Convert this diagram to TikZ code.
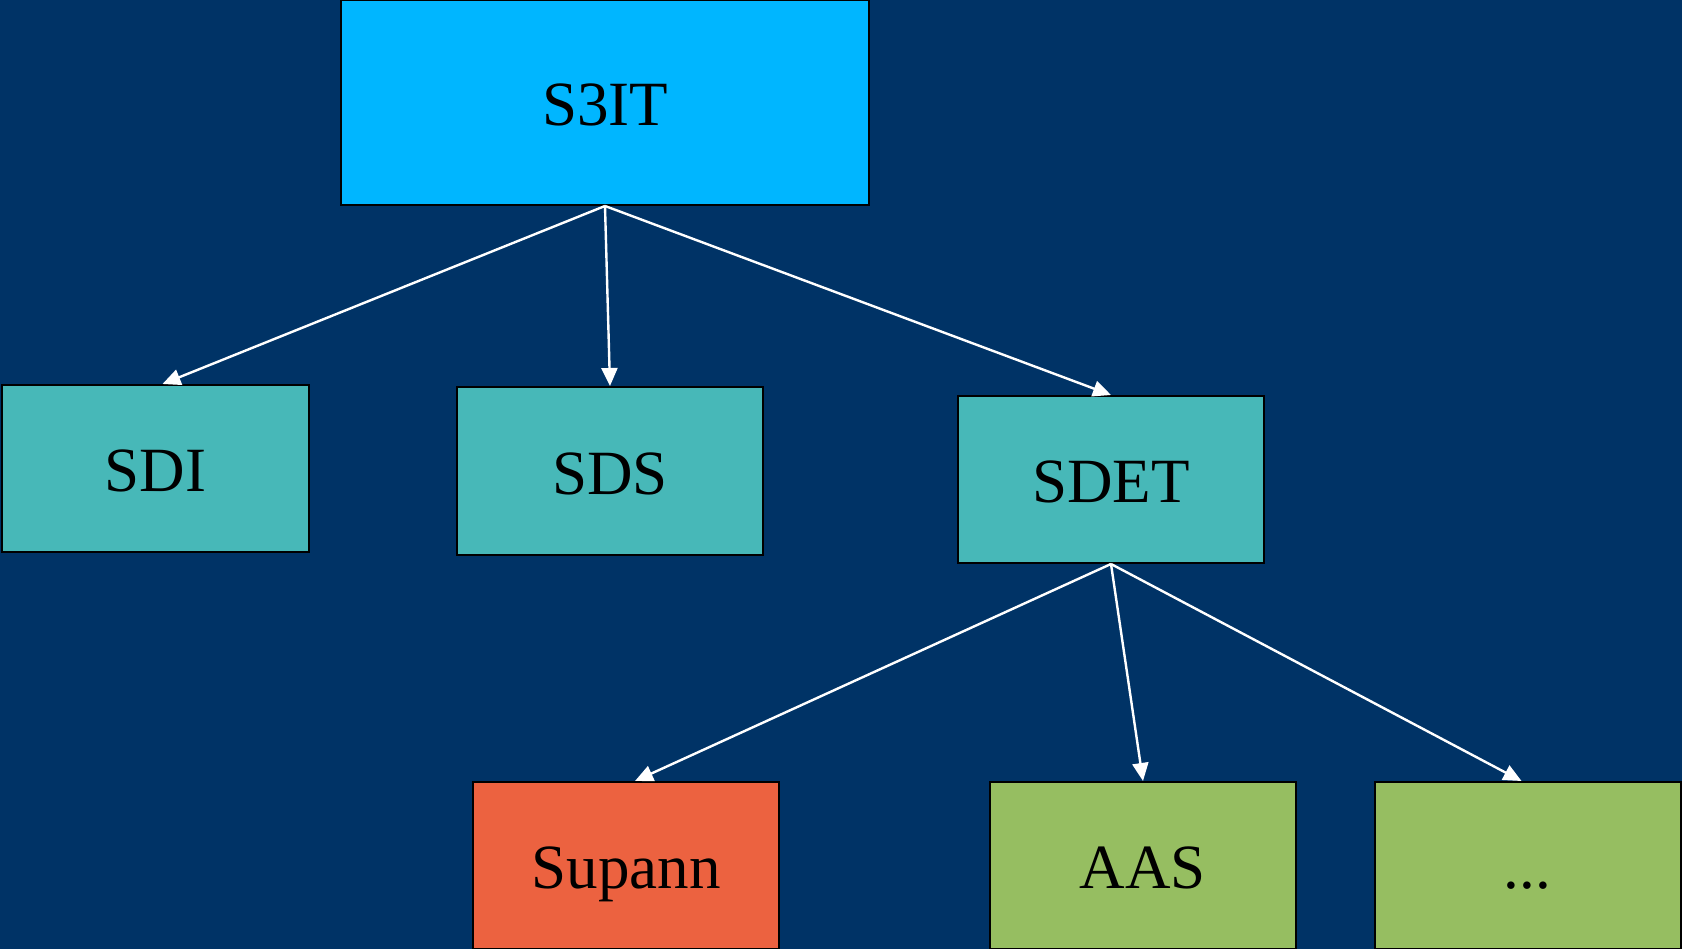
\documentclass[tikz,border=0pt]{standalone}
\usepackage{fontspec}
\setmainfont{Liberation Serif}
\usetikzlibrary{arrows.meta}
\definecolor{bgblue}{RGB}{0,51,102}
\definecolor{topblue}{RGB}{0,182,255}
\definecolor{tealbox}{RGB}{71,184,184}
\definecolor{redbox}{RGB}{236,98,64}
\definecolor{greenbox}{RGB}{150,190,97}
\tikzset{
  box/.style={draw=black, line width=2pt, minimum width=306pt, minimum height=167pt,
    inner sep=0pt, text height=47pt, text depth=0pt,
    font=\fontsize{63}{70}\selectfont, text=black},
  conn/.style={draw=white, line width=2.4pt, -{Triangle[length=18pt,width=16pt]}}
}
\begin{document}
\begin{tikzpicture}[x=1pt,y=1pt]
\fill[bgblue] (0,0) rectangle (1682,949);
\useasboundingbox (0,0) rectangle (1682,949);
\node[box, fill=topblue, minimum width=528pt, minimum height=205pt] (s3it) at (605,846.5) {S3IT};
\node[box, fill=tealbox, minimum width=307pt] (sdi) at (155.5,480.5) {SDI};
\node[box, fill=tealbox, minimum height=168pt] (sds) at (610,478) {SDS};
\node[box, fill=tealbox] (sdet) at (1111,469.5) {SDET};
\node[box, fill=redbox] (supann) at (626,83.5) {Supann};
\node[box, fill=greenbox] (aas) at (1143,83.5) {AAS};
\node[box, fill=greenbox] (more) at (1527.5,83.5) {...};
\draw[conn] (s3it.south) -- ([xshift=7pt]sdi.north);
\draw[conn] (s3it.south) -- (sds.north);
\draw[conn] (s3it.south) -- (sdet.north);
\draw[conn] (sdet.south) -- ([xshift=9pt]supann.north);
\draw[conn] (sdet.south) -- (aas.north);
\draw[conn] (sdet.south) -- ([xshift=-6pt]more.north);
\end{tikzpicture}
\end{document}
